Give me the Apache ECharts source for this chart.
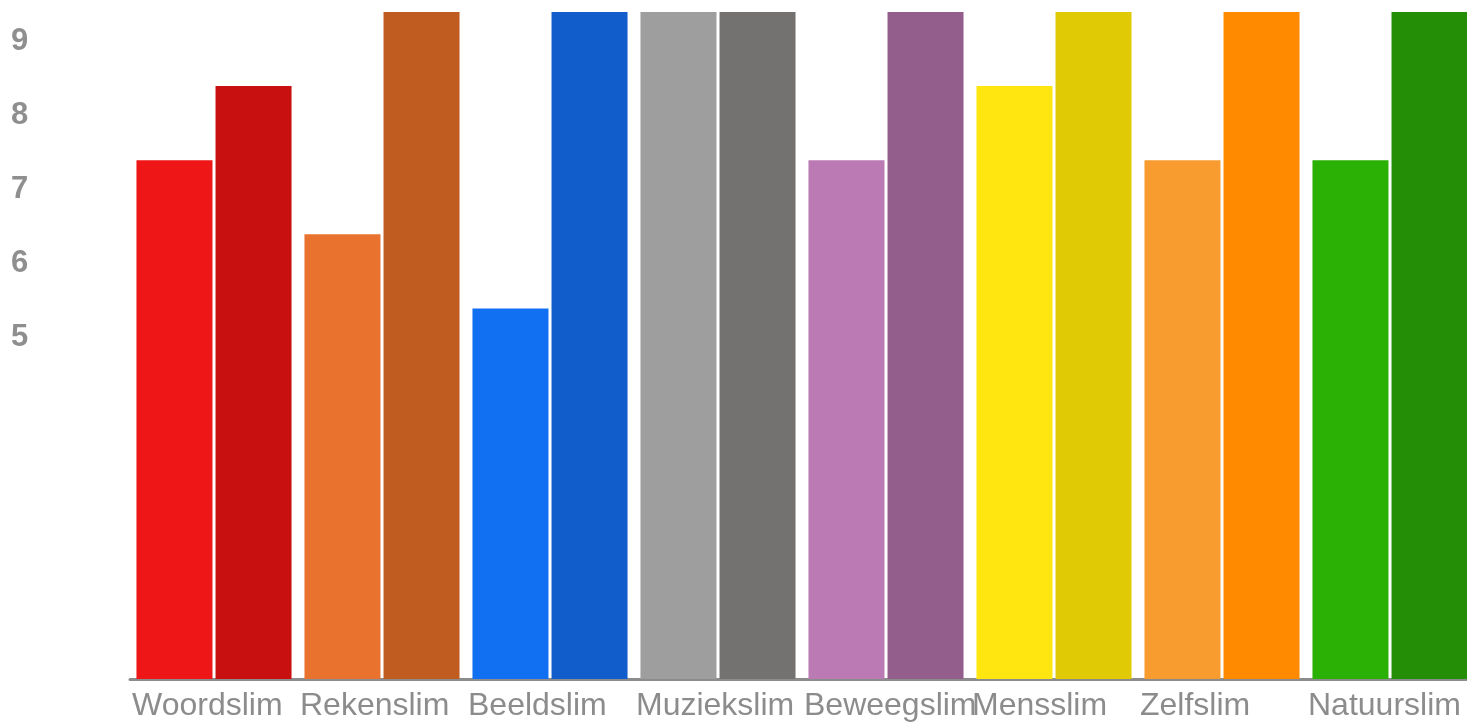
<!DOCTYPE html>
<html>
<head>
<meta charset="utf-8">
<script src="https://cdn.jsdelivr.net/npm/echarts@6/dist/echarts.min.js"></script>
<style>
html,body{margin:0;padding:0;background:#fff;overflow:hidden;}
#chart{width:1467px;height:722px;}
</style>
</head>
<body>
<div id="chart"></div>
<script>
var categories = ['Woordslim','Rekenslim','Beeldslim','Muziekslim','Beweegslim','Mensslim','Zelfslim','Natuurslim'];
var seriesA = [7, 6, 5, 9, 7, 8, 7, 7];
var seriesB = [8, 9, 9, 9, 9, 9, 9, 9];
var yTickLabels = ['5','6','7','8','9'];
var colorsA = ['#ee1616','#e8722e','#1170f2','#9e9e9e','#bb7ab4','#ffe610','#f99c30','#2bb005'];
var colorsB = ['#c81010','#c05c20','#105dcb','#737270','#945e8c','#e0ca06','#ff8a00','#238e06'];

var chart = echarts.init(document.getElementById('chart'));
chart.setOption({
  animation: false,
  grid: {left: 130, right: -7, top: 12, bottom: 43, containLabel: false, outerBoundsMode: 'none'},
  xAxis: [
    {
      type: 'category',
      data: categories,
      axisLine: {show: true, lineStyle: {color: '#8c8c8c', width: 3}},
      axisTick: {show: false},
      axisLabel: {show: false},
      splitLine: {show: false}
    },
    {
      type: 'category',
      position: 'bottom',
      boundaryGap: false,
      data: categories.concat(['']),
      axisLine: {show: false},
      axisTick: {show: false},
      splitLine: {show: false},
      axisLabel: {
        interval: 0,
        align: 'left',
        color: '#8c8c8c',
        fontFamily: 'Liberation Sans, Arial, sans-serif',
        fontSize: 32,
        margin: 11,
        padding: [0, 0, 0, 2],
        hideOverlap: false
      }
    }
  ],
  yAxis: {
    type: 'value',
    min: 0,
    max: 9,
    interval: 1,
    axisLine: {show: false},
    axisTick: {show: false},
    splitLine: {show: false},
    axisLabel: {
      align: 'left',
      verticalAlign: 'top',
      margin: 119,
      padding: [14, 0, 0, 0],
      color: '#8f8f8f',
      fontWeight: 'bold',
      fontFamily: 'Liberation Sans, Arial, sans-serif',
      fontSize: 31,
      lineHeight: 31,
      formatter: function (v) {
        var s = String(v);
        return yTickLabels.indexOf(s) >= 0 ? s : '';
      }
    }
  },
  series: [
    {
      type: 'bar',
      xAxisIndex: 0,
      data: seriesA,
      barGap: '4%',
      barCategoryGap: '7.7%',
      itemStyle: {color: function (p) { return colorsA[p.dataIndex]; }}
    },
    {
      type: 'bar',
      xAxisIndex: 0,
      data: seriesB,
      barGap: '4%',
      barCategoryGap: '7.7%',
      itemStyle: {color: function (p) { return colorsB[p.dataIndex]; }}
    }
  ]
});
</script>
</body>
</html>
